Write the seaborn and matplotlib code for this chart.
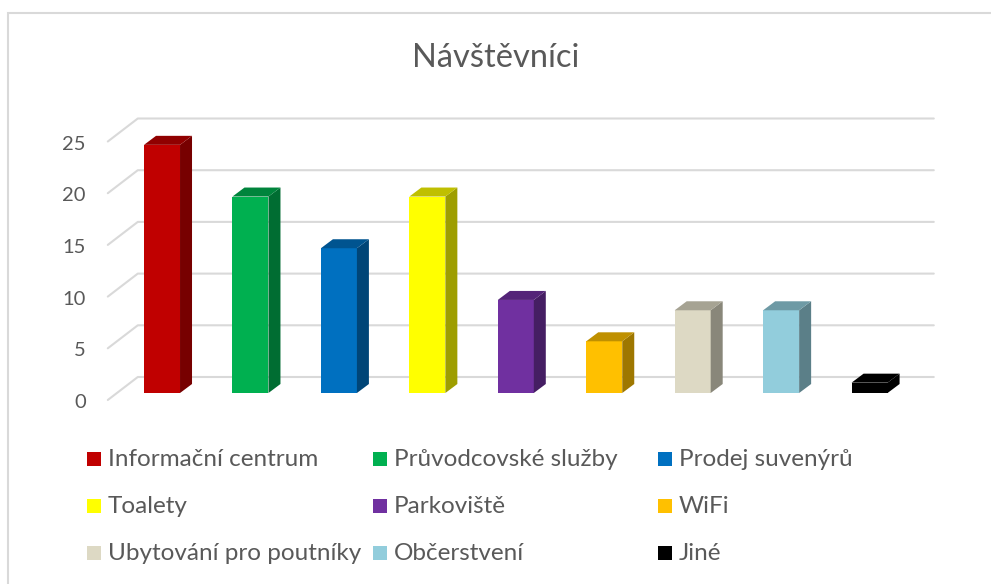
import matplotlib
matplotlib.use("Agg")
import matplotlib.pyplot as plt
import seaborn as sns
import numpy as np
from matplotlib.patches import Polygon, Rectangle
from matplotlib.lines import Line2D
from matplotlib.colors import to_rgb

categories = ["Informační centrum", "Průvodcovské služby", "Prodej suvenýrů",
              "Toalety", "Parkoviště", "WiFi",
              "Ubytování pro poutníky", "Občerstvení", "Jiné"]
values = [24, 19, 14, 19, 9, 5, 8, 8, 1]
colors = ["#C00000", "#00B050", "#0070C0", "#FFFF00", "#7030A0",
          "#FFC000", "#DDD9C4", "#92CDDC", "#000000"]
yticks = [0, 5, 10, 15, 20, 25]

TEXT = "#595959"
GRID = "#D9D9D9"

sns.set_theme(style="white")
plt.rcParams["font.family"] = ["Lato", "DejaVu Sans"]

W, H = 991, 584
fig = plt.figure(figsize=(W / 100, H / 100), dpi=100)
ax = fig.add_axes([117.8 / W, (H - 393) / H, 796 / W, 258.5 / H])
ax.set_xlim(-0.5, len(categories) - 0.5)
ax.set_ylim(0, 25)
ax.axis("off")

df = {"cat": categories, "val": values}
sns.barplot(x="cat", y="val", hue="cat", data=df, palette=colors,
            width=0.407, legend=False, ax=ax, saturation=1, zorder=3,
            linewidth=0, edgecolor="none")

fig.canvas.draw()
tr = ax.transData
ident = matplotlib.transforms.IdentityTransform()

# pseudo-3D depth offsets in pixels (display coords)
front = np.array([-10, -7])
back = np.array([20, 16])
depth = np.array([12, 9])

# back wall gridlines, side diagonals and tick labels
for v in yticks:
    p0 = tr.transform((-0.5, v))
    p1 = tr.transform((len(categories) - 0.5, v))
    a, b, c = p0 + front, p0 + back, p1 + back
    fig.add_artist(Line2D([a[0], b[0], c[0]], [a[1], b[1], c[1]], transform=ident,
                          color=GRID, lw=1.5, zorder=0))
    fig.text(a[0] - 22, a[1] - 8, str(v), transform=ident, ha="right", va="baseline",
             fontsize=14.5, color=TEXT)

# side and top faces of the bars
for patch, col in zip(ax.patches, colors):
    x0, y0 = tr.transform((patch.get_x(), 0))
    x1, y1 = tr.transform((patch.get_x() + patch.get_width(), patch.get_height()))
    rgb = np.array(to_rgb(col))
    side = [(x1, y0), (x1, y1), (x1 + depth[0], y1 + depth[1]), (x1 + depth[0], y0 + depth[1])]
    top = [(x0, y1), (x1, y1), (x1 + depth[0], y1 + depth[1]), (x0 + depth[0], y1 + depth[1])]
    fig.add_artist(Polygon(side, closed=True, transform=ident, fc=rgb * 0.62, ec="none", zorder=2))
    fig.add_artist(Polygon(top, closed=True, transform=ident, fc=rgb * 0.75, ec="none", zorder=2))

# title
fig.text(0.5, 1 - 67 / H, "Návštěvníci", ha="center", va="baseline", fontsize=23.5, color=TEXT)

# legend (row-major, equal column widths like Excel)
col_x = [87, 373, 658]
row_y = [459, 506, 553]
for i, (lab, col) in enumerate(zip(categories, colors)):
    r, c = divmod(i, 3)
    fig.add_artist(Rectangle((col_x[c] / W, 1 - (row_y[r] + 7) / H), 14 / W, 14 / H,
                             transform=fig.transFigure, fc=col, ec="none"))
    fig.text((col_x[c] + 21) / W, 1 - (row_y[r] + 7) / H, lab, ha="left", va="baseline",
             fontsize=17.5, color=TEXT)

# chart border
fig.add_artist(Rectangle((8 / W, -0.1), 1.1, 1 - 13 / H + 0.1, transform=fig.transFigure,
                         fill=False, ec="#D9D9D9", lw=1.5))

fig.savefig("out.png", dpi=100)
